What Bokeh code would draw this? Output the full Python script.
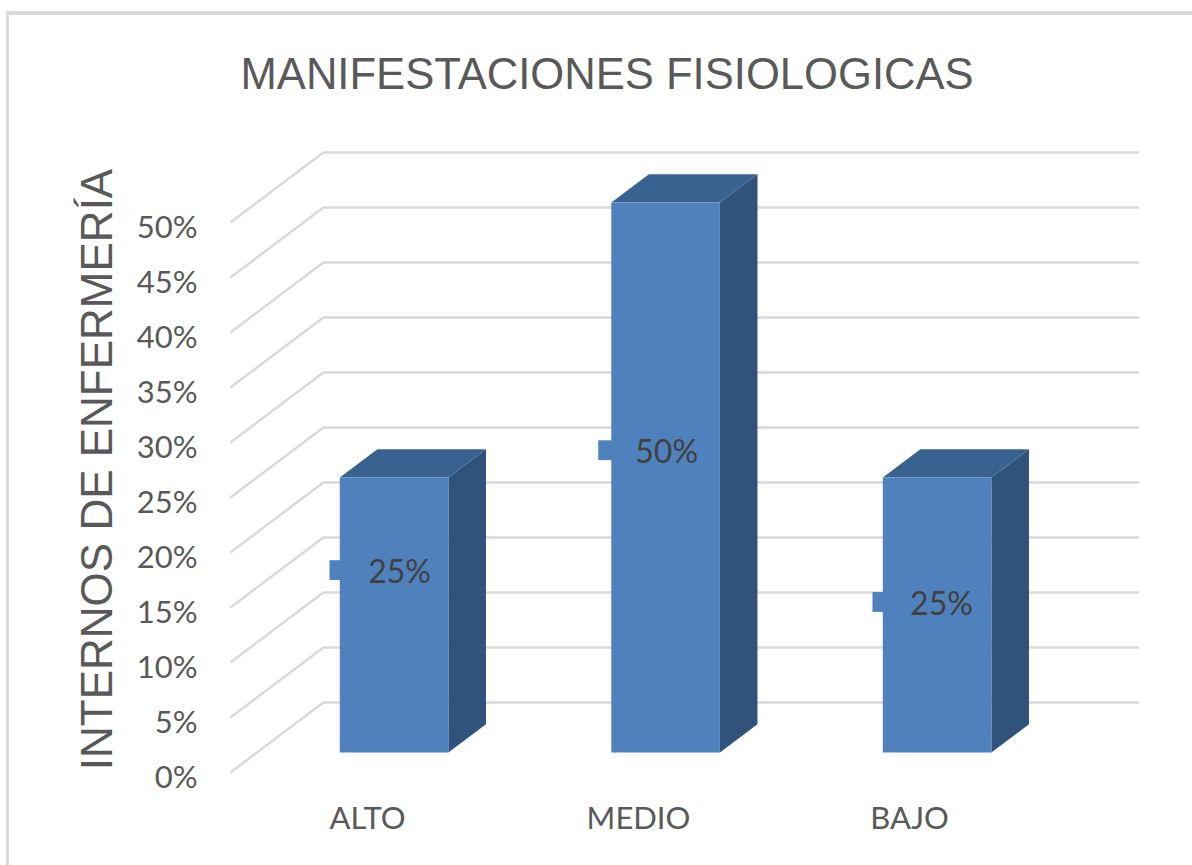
from bokeh.plotting import figure
from bokeh.models import LinearAxis, Range1d, FixedTicker, Title
from bokeh.core.properties import value
from bokeh.embed import file_html
from bokeh.resources import INLINE

title_text = "MANIFESTACIONES FISIOLOGICAS"
y_title = "INTERNOS DE ENFERMERÍA"
categories = ["ALTO", "MEDIO", "BAJO"]
values = [25, 50, 25]
value_labels = ["25%", "50%", "25%"]
y_ticks = [0, 5, 10, 15, 20, 25, 30, 35, 40, 45, 50]
y_tick_labels = ["0%", "5%", "10%", "15%", "20%", "25%", "30%", "35%", "40%", "45%", "50%"]

# layout (page pixels of the reference), used only to set the scales
W, H = 1192, 865
F_L, F_R, F_T, F_B = 205, 1192, 143, 795
PX_X0, PX_PER_CAT = 367.0, 271.5
PX_Y0, PX_PER_PCT = 772.0, 11.0
DEPTH_X = 93 / PX_PER_CAT      # shift of the back wall, category units
DEPTH_Y = 70 / PX_PER_PCT      # shift of the back wall, percent units
BAR_W = 0.4
Z0, Z1 = 0.286, 0.69           # front and back depth of the bars
LBL_DX = [0.118, 0.102, 0.114]
LBL_Y = [18.4, 29.3, 15.5]
TAB_W = [0.038, 0.048, 0.038]
TAB_H = 0.9

GRID = "#d9d9d9"
FRONT, SIDE, TOP = "#4f81bd", "#30527b", "#3a6291"
TICK = "#595959"

xr = Range1d((F_L - PX_X0) / PX_PER_CAT, (F_R - PX_X0) / PX_PER_CAT)
yr = Range1d((PX_Y0 - F_B) / PX_PER_PCT, (PX_Y0 - F_T) / PX_PER_PCT)


def pr(x, pct, z):
    return x + z * DEPTH_X, pct + z * DEPTH_Y


# chart-area edge (top and left only) painted behind the transparent canvas
edge = f"linear-gradient({GRID},{GRID})"
p = figure(width=W, height=H, x_range=xr, y_range=yr, output_backend="svg", toolbar_location=None,
           x_axis_location=None, y_axis_location=None,
           min_border_left=F_L, min_border_right=0, min_border_top=F_T, min_border_bottom=H - F_B,
           styles={"background": f"{edge} 6px 11px / 100% 4px no-repeat, {edge} 6px 11px / 3px 100% no-repeat"})
p.grid.visible = False
p.outline_line_color = None
p.background_fill_color = None
p.border_fill_color = None

# axes: labels sit a little off the floor line, as in the reference
p.extra_y_ranges["lab"] = Range1d((775 - F_B) / PX_PER_PCT, (775 - F_T) / PX_PER_PCT)
p.extra_x_ranges["lab"] = Range1d((F_L - 367.0) / 271.0, (F_R - 367.0) / 271.0)

ya = LinearAxis(y_range_name="lab", ticker=FixedTicker(ticks=y_ticks),
                major_label_overrides={t: l for t, l in zip(y_ticks, y_tick_labels)},
                axis_label=y_title, axis_label_text_font="Liberation Sans", axis_label_text_font_size="44px",
                axis_label_text_font_style="normal", axis_label_text_color=TICK, axis_label_standoff=13,
                major_label_text_font="Lato", major_label_text_font_size="31px", major_label_text_color=TICK,
                major_label_standoff=8, axis_line_color=None, major_tick_line_color=None,
                minor_tick_line_color=None, major_tick_in=0, major_tick_out=0)
p.add_layout(ya, "left")
xa = LinearAxis(x_range_name="lab", ticker=FixedTicker(ticks=[0, 1, 2]),
                major_label_overrides={i: c for i, c in enumerate(categories)},
                major_label_text_font="Lato", major_label_text_font_size="31px", major_label_text_color=TICK,
                major_label_standoff=2, axis_line_color=None, major_tick_line_color=None,
                minor_tick_line_color=None, major_tick_in=0, major_tick_out=0)
p.add_layout(xa, "below")

t = Title(text=title_text, text_font="Liberation Sans", text_font_size="43.6px", text_font_style="normal",
          text_color=TICK, align="left", offset=35, standoff=92)
p.add_layout(t, "above")

# wall and floor gridlines
gx, gy = [], []
for v in y_ticks:
    x0, y0 = pr(-0.505, v, 0)
    x1, y1 = pr(-0.505, v, 1)
    x2, y2 = pr(2.5, v, 1)
    gx.append([x0, x1, x2])
    gy.append([y0, y1, y2])
p.multi_line(gx, gy, line_color=GRID, line_width=2.5)

# bars
idx = list(range(len(categories)))
tabs_l = [i - BAR_W / 2 + Z0 * DEPTH_X - w for i, w in zip(idx, TAB_W)]
tabs_r = [i - BAR_W / 2 + Z0 * DEPTH_X + 0.01 for i in idx]
p.quad(left=tabs_l, right=tabs_r, bottom=[y - TAB_H for y in LBL_Y], top=[y + TAB_H for y in LBL_Y],
       fill_color=FRONT, line_color=None)

fx, fy, sx, sy, tx, ty = [], [], [], [], [], []
for i, v in zip(idx, values):
    l, r = i - BAR_W / 2, i + BAR_W / 2
    a = pr(l, 0, Z0); b = pr(r, 0, Z0); c = pr(r, v, Z0); d = pr(l, v, Z0)
    e = pr(r, 0, Z1); f = pr(r, v, Z1); g = pr(l, v, Z1)
    fx.append([a[0], b[0], c[0], d[0]]); fy.append([a[1], b[1], c[1], d[1]])
    sx.append([b[0], e[0], f[0], c[0]]); sy.append([b[1], e[1], f[1], c[1]])
    tx.append([d[0], c[0], f[0], g[0]]); ty.append([d[1], c[1], f[1], g[1]])
p.patches(sx, sy, fill_color=SIDE, line_color=None)
p.patches(tx, ty, fill_color=TOP, line_color=None)
p.patches(fx, fy, fill_color=FRONT, line_color=None)

p.text(x=[i + dx for i, dx in zip(idx, LBL_DX)],
       y=LBL_Y, text=value_labels, text_font=value("Lato"), text_font_size="32px",
       text_color="#404040", text_align="center", text_baseline="middle")

open("out.html", "w").write(file_html(p, INLINE))
